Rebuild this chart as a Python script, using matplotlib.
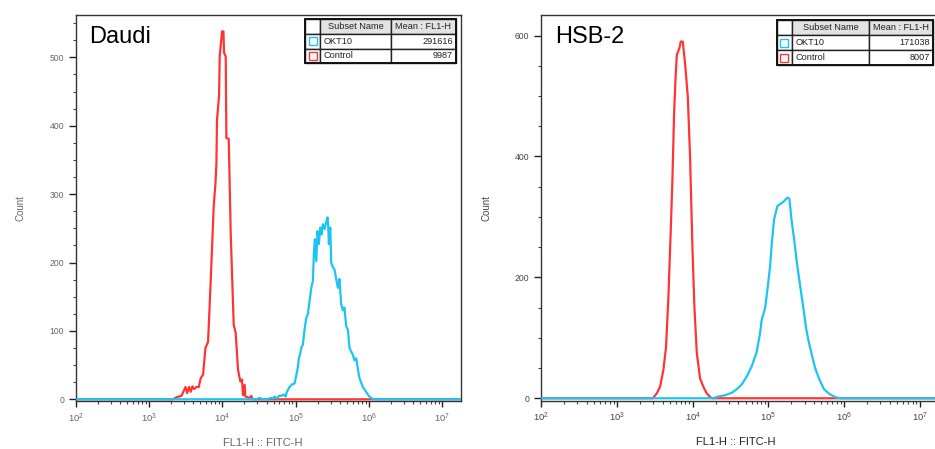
import numpy as np
import matplotlib
matplotlib.use('Agg')
import matplotlib.pyplot as plt
from matplotlib.patches import Rectangle
from matplotlib.ticker import MultipleLocator, LogLocator, NullFormatter

plt.rcParams['font.family'] = ['Liberation Sans', 'DejaVu Sans']

RED = '#ff3535'
CYAN = '#1cc4f4'

# Daudi - control histogram (log10 FL1-H, count)
daudi_ctrl_log = [1.99, 3.327, 3.373, 3.441, 3.496, 3.518, 3.545, 3.568, 3.591, 3.613,
                  3.646, 3.677, 3.704, 3.736, 3.768, 3.804, 3.837, 3.881, 3.905, 3.918,
                  3.926, 3.954, 3.963, 3.995, 4.014, 4.022, 4.045, 4.054, 4.086, 4.113,
                  4.154, 4.181, 4.213, 4.245, 4.267, 4.281, 4.304, 4.313, 4.372, 4.395,
                  4.409, 7.26]
daudi_ctrl_cnt = [0, 0, 3, 5, 18, 9, 18, 11, 19, 15,
                  18, 18, 31, 36, 75, 84, 165, 282, 316, 345,
                  409, 443, 502, 538, 538, 507, 501, 382, 381, 243,
                  109, 97, 43, 26, 29, 6, 21, 4, 2, 5,
                  0, 0]

# Daudi - OKT10 histogram
daudi_okt_log = [1.99, 4.463, 4.508, 4.545, 4.621, 4.654, 4.690, 4.713, 4.744, 4.771,
                 4.804, 4.835, 4.862, 4.880, 4.917, 4.954, 4.985, 5.008, 5.030, 5.044,
                 5.063, 5.076, 5.098, 5.121, 5.144, 5.166, 5.189, 5.213, 5.235, 5.248,
                 5.262, 5.281, 5.298, 5.316, 5.335, 5.353, 5.371, 5.394, 5.417, 5.435,
                 5.444, 5.453, 5.472, 5.485, 5.508, 5.530, 5.553, 5.576, 5.598, 5.621,
                 5.644, 5.666, 5.689, 5.712, 5.735, 5.757, 5.780, 5.803, 5.826, 5.848,
                 5.871, 5.917, 5.962, 5.998, 6.030, 6.061, 7.26]
daudi_okt_cnt = [0, 0, 2, 0, 0, 2, 1, 4, 1, 5,
                 5, 7, 4, 11, 18, 22, 23, 35, 47, 60,
                 67, 75, 80, 102, 119, 124, 143, 163, 173, 212,
                 234, 202, 246, 227, 251, 241, 256, 249, 259, 266,
                 254, 227, 251, 200, 193, 190, 176, 163, 176, 139,
                 130, 134, 107, 102, 75, 70, 65, 57, 60, 45,
                 31, 18, 11, 5, 2, 0, 0]

# HSB-2 - control histogram
hsb_ctrl_log = [1.99, 3.472, 3.524, 3.568, 3.612, 3.647, 3.678, 3.709, 3.731, 3.753,
                3.771, 3.789, 3.823, 3.841, 3.868, 3.898, 3.934, 3.964, 3.995, 4.021,
                4.053, 4.096, 4.140, 4.185, 4.238, 4.264, 7.27]
hsb_ctrl_cnt = [0, 0, 8, 19, 47, 85, 168, 278, 361, 471,
                526, 568, 579, 590, 590, 554, 499, 400, 251, 152,
                75, 33, 19, 8, 1, 0, 0]

# HSB-2 - OKT10 histogram
hsb_okt_log = [1.99, 4.272, 4.338, 4.427, 4.515, 4.581, 4.647, 4.713, 4.779, 4.845,
               4.889, 4.911, 4.955, 4.991, 5.021, 5.044, 5.074, 5.118, 5.153, 5.197,
               5.250, 5.276, 5.308, 5.338, 5.374, 5.417, 5.461, 5.497, 5.527, 5.572,
               5.616, 5.673, 5.734, 5.805, 5.880, 5.946, 7.27]
hsb_okt_cnt = [0, 0, 3, 5, 9, 15, 23, 36, 53, 77,
               108, 130, 149, 185, 218, 257, 296, 318, 321, 325,
               332, 330, 291, 264, 225, 187, 149, 116, 96, 72,
               50, 31, 15, 7, 2, 0, 0]

subset_names = ['OKT10', 'Control']
daudi_means = ['291616', '9987']
hsb_means = ['171038', '8007']

fig = plt.figure(figsize=(9.35, 4.49), dpi=100)
ax1 = fig.add_axes([0.0808, 0.1069, 0.4125, 0.8597])
ax2 = fig.add_axes([0.5786, 0.1076, 0.4263, 0.8590])


def style_axes(ax, ylim, major, minor, label_color):
    ax.set_xscale('log')
    ax.set_xlim(10 ** 1.995, 10 ** 7.26)
    ax.set_ylim(*ylim)
    ax.xaxis.set_major_locator(LogLocator(base=10, numticks=10))
    ax.xaxis.set_minor_locator(LogLocator(base=10, subs=np.arange(2, 10), numticks=20))
    ax.xaxis.set_minor_formatter(NullFormatter())
    ax.yaxis.set_major_locator(MultipleLocator(major))
    ax.yaxis.set_minor_locator(MultipleLocator(minor))
    for s in ax.spines.values():
        s.set_color('#333333')
        s.set_linewidth(1.0)
    ax.tick_params(axis='both', which='major', direction='out', length=5.2, width=1,
                   color='#222222', labelcolor=label_color, pad=3)
    ax.tick_params(axis='x', which='major', labelsize=6.8, length=4.5)
    ax.tick_params(axis='y', which='major', labelsize=6.2)
    ax.tick_params(axis='both', which='minor', direction='out', length=2, width=0.8,
                   color='#444444')
    ax.tick_params(top=False, right=False)
    ax.set_ylabel('Count', fontsize=7, color=label_color)
    ax.set_xlabel('FL1-H :: FITC-H', fontsize=8, color=label_color)


def stats_box(ax, edges, y_top, y_bot, means):
    rows = [('', 'Subset Name', 'Mean : FL1-H')] + [('', n, m) for n, m in zip(subset_names, means)]
    row_h = (y_top - y_bot) / 3
    colors = [None, CYAN, RED]
    for r, row in enumerate(rows):
        y0 = y_top - (r + 1) * row_h
        for c in range(3):
            fc = '#e2e2e2' if (r == 0 and c > 0) else 'white'
            ax.add_patch(Rectangle((edges[c], y0), edges[c + 1] - edges[c], row_h,
                                   transform=ax.transAxes, facecolor=fc,
                                   edgecolor='#222222', lw=1.0, zorder=5, clip_on=False))
        yc = y0 + row_h / 2
        if r == 0:
            ax.text((edges[1] + edges[2]) / 2, yc, row[1], transform=ax.transAxes,
                    ha='center', va='center', fontsize=6.6, color='#222222', zorder=6)
            ax.text((edges[2] + edges[3]) / 2, yc, row[2], transform=ax.transAxes,
                    ha='center', va='center', fontsize=6.6, color='#222222', zorder=6)
        else:
            ax.plot([(edges[0] + edges[1]) / 2], [yc], marker='s', ms=5.6, mfc='white',
                    mec=colors[r], mew=1.0, transform=ax.transAxes, zorder=6, clip_on=False)
            ax.text(edges[1] + 0.008, yc, row[1], transform=ax.transAxes,
                    ha='left', va='center', fontsize=6.6, color='#222222', zorder=6)
            ax.text(edges[3] - 0.008, yc, row[2], transform=ax.transAxes,
                    ha='right', va='center', fontsize=6.6, color='#222222', zorder=6)
    ax.add_patch(Rectangle((edges[0], y_bot), edges[3] - edges[0], y_top - y_bot,
                           transform=ax.transAxes, fill=False, edgecolor='#111111',
                           lw=1.4, zorder=7, clip_on=False))


# Daudi
ax1.plot(10 ** np.array(daudi_ctrl_log), daudi_ctrl_cnt, color=RED, lw=1.6, zorder=2)
ax1.plot(10 ** np.array(daudi_okt_log), daudi_okt_cnt, color=CYAN, lw=1.6, zorder=3)
style_axes(ax1, (-2.5, 562), 100, 25, '#666666')
ax1.yaxis.set_label_coords(-0.13, 0.5)
ax1.xaxis.set_label_coords(0.486, -0.095)
ax1.text(0.036, 0.943, 'Daudi', transform=ax1.transAxes, fontsize=17,
         ha='left', va='center', color='black')
stats_box(ax1, [0.596, 0.635, 0.817, 0.987], 0.9896, 0.875, daudi_means)

# HSB-2
ax2.plot(10 ** np.array(hsb_ctrl_log), hsb_ctrl_cnt, color=RED, lw=1.6, zorder=2)
ax2.plot(10 ** np.array(hsb_okt_log), hsb_okt_cnt, color=CYAN, lw=1.6, zorder=3)
style_axes(ax2, (-4, 634), 200, 50, '#444444')
ax2.yaxis.set_label_coords(-0.124, 0.5)
ax2.xaxis.set_label_coords(0.488, -0.095)
ax2.xaxis.label.set_color('#222222')
ax2.text(0.035, 0.943, 'HSB-2', transform=ax2.transAxes, fontsize=17,
         ha='left', va='center', color='black')
stats_box(ax2, [0.591, 0.6296, 0.823, 0.983], 0.987, 0.870, hsb_means)

fig.savefig('out.png', dpi=100)
